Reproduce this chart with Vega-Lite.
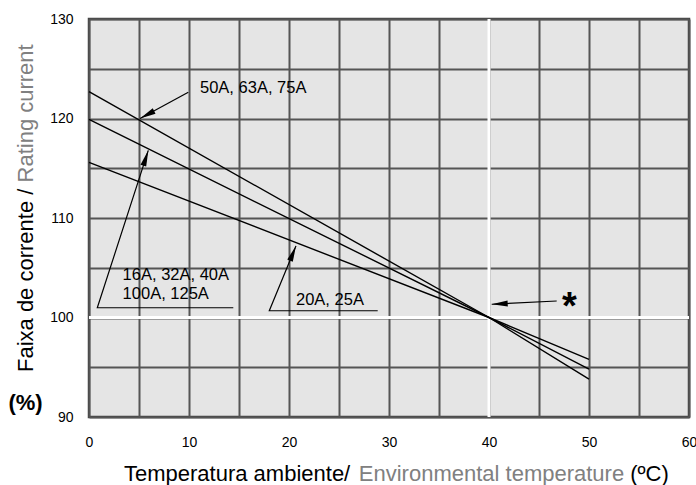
{
  "$schema": "https://vega.github.io/schema/vega-lite/v6.json",
  "width": 600,
  "height": 398,
  "autosize": {"type": "none"},
  "padding": {"left": 89, "top": 19, "right": 7, "bottom": 68},
  "background": "white",
  "config": {
    "view": {"fill": "#e5e5e5", "stroke": "#444444", "strokeWidth": 2.5},
    "font": "Liberation Sans",
    "text": {"font": "Liberation Sans"}
  },
  "datasets": {
    "curves": [
      {"s": "50A, 63A, 75A", "x": 0, "y": 122.7},
      {"s": "50A, 63A, 75A", "x": 40, "y": 100},
      {"s": "50A, 63A, 75A", "x": 50, "y": 93.8},
      {"s": "16A, 32A, 40A, 100A, 125A", "x": 0, "y": 119.9},
      {"s": "16A, 32A, 40A, 100A, 125A", "x": 40, "y": 100},
      {"s": "16A, 32A, 40A, 100A, 125A", "x": 50, "y": 94.8},
      {"s": "20A, 25A", "x": 0, "y": 115.6},
      {"s": "20A, 25A", "x": 40, "y": 100},
      {"s": "20A, 25A", "x": 50, "y": 95.8}
    ],
    "leaders": [
      {"a": "a1", "o": 1, "x": 9.93, "y": 122.63},
      {"a": "a1", "o": 2, "x": 5.1, "y": 120.0},
      {"a": "a2", "o": 1, "x": 14.43, "y": 100.98},
      {"a": "a2", "o": 2, "x": 0.83, "y": 100.98},
      {"a": "a2", "o": 3, "x": 5.93, "y": 116.8},
      {"a": "a3", "o": 1, "x": 28.87, "y": 100.68},
      {"a": "a3", "o": 2, "x": 18.03, "y": 100.68},
      {"a": "a3", "o": 3, "x": 20.7, "y": 107.2},
      {"a": "a4", "o": 1, "x": 46.77, "y": 101.66},
      {"a": "a4", "o": 2, "x": 40.27, "y": 101.33}
    ],
    "tips": [
      {"a": "a1", "x": 5.1, "y": 120.0},
      {"a": "a2", "x": 5.93, "y": 116.8},
      {"a": "a3", "x": 20.7, "y": 107.2},
      {"a": "a4", "x": 40.27, "y": 101.33}
    ],
    "labels": [
      {"label": "50A, 63A, 75A", "x": 11.1, "y": 122.53},
      {"label": "16A, 32A, 40A", "x": 3.36, "y": 103.77},
      {"label": "100A, 125A", "x": 3.36, "y": 101.86},
      {"label": "20A, 25A", "x": 20.7, "y": 101.26}
    ],
    "star": [{"label": "*", "x": 48.05, "y": 99.8}],
    "pct": [{"label": "(%)", "x": -6.35, "y": 90.66}],
    "xtitle": [
      {"label": "Temperatura ambiente/", "lang": "pt", "x": 3.5, "y": 83.57},
      {"label": "Environmental temperature", "lang": "en", "x": 26.98, "y": 83.57},
      {"label": "(ºC)", "lang": "unit", "x": 54.12, "y": 83.57}
    ],
    "ytitle": [
      {"label": "Faixa de corrente /", "lang": "pt", "x": -5.6, "y": 94.52},
      {"label": "Rating current", "lang": "en", "x": -5.6, "y": 113.57}
    ],
    "refx": [{"x": 40}],
    "refy": [{"y": 100}]
  },
  "layer": [
    {
      "data": {"name": "refx"},
      "mark": {"type": "rule", "color": "white", "strokeWidth": 3},
      "encoding": {
        "x": {
          "field": "x", "type": "quantitative",
          "scale": {"domain": [0, 60], "nice": false, "zero": false},
          "axis": {
            "values": [0, 5, 10, 15, 20, 25, 30, 35, 40, 45, 50, 55, 60],
            "labelExpr": "datum.value % 10 === 0 ? datum.label : ''",
            "title": null, "domain": false, "ticks": false, "tickSize": 0,
            "labelPadding": 18, "labelFontSize": 14, "labelColor": "black",
            "labelFont": "Liberation Sans", "labelFlush": false,
            "grid": true, "gridColor": "#555555", "gridWidth": 2, "gridOpacity": 1
          }
        }
      }
    },
    {
      "data": {"name": "refy"},
      "mark": {"type": "rule", "color": "white", "strokeWidth": 3},
      "encoding": {
        "y": {
          "field": "y", "type": "quantitative",
          "scale": {"domain": [90, 130], "nice": false, "zero": false},
          "axis": {
            "values": [90, 95, 100, 105, 110, 115, 120, 125, 130],
            "labelExpr": "datum.value % 10 === 0 ? datum.label : ''",
            "title": null, "domain": false, "ticks": false, "tickSize": 0,
            "labelPadding": 16, "labelFontSize": 14, "labelColor": "black",
            "labelFont": "Liberation Sans", "labelFlush": false,
            "grid": true, "gridColor": "#555555", "gridWidth": 2, "gridOpacity": 1
          }
        }
      }
    },
    {
      "data": {"name": "curves"},
      "mark": {"type": "line", "color": "black", "strokeWidth": 1.4},
      "encoding": {
        "x": {"field": "x", "type": "quantitative"},
        "y": {"field": "y", "type": "quantitative"},
        "detail": {"field": "s"}
      }
    },
    {
      "data": {"name": "leaders"},
      "mark": {"type": "line", "color": "black", "strokeWidth": 1.2},
      "encoding": {
        "x": {"field": "x", "type": "quantitative"},
        "y": {"field": "y", "type": "quantitative"},
        "detail": {"field": "a"},
        "order": {"field": "o", "type": "quantitative"}
      }
    },
    {
      "data": {"name": "tips"},
      "transform": [{"filter": "datum.a === 'a1'"}],
      "mark": {"type": "point", "filled": true, "color": "black", "opacity": 1, "size": 100, "angle": 242, "shape": "M0,0L-0.6,3.2L0.6,3.2Z"},
      "encoding": {"x": {"field": "x", "type": "quantitative"}, "y": {"field": "y", "type": "quantitative"}}
    },
    {
      "data": {"name": "tips"},
      "transform": [{"filter": "datum.a === 'a2'"}],
      "mark": {"type": "point", "filled": true, "color": "black", "opacity": 1, "size": 100, "angle": 18, "shape": "M0,0L-0.6,3.2L0.6,3.2Z"},
      "encoding": {"x": {"field": "x", "type": "quantitative"}, "y": {"field": "y", "type": "quantitative"}}
    },
    {
      "data": {"name": "tips"},
      "transform": [{"filter": "datum.a === 'a3'"}],
      "mark": {"type": "point", "filled": true, "color": "black", "opacity": 1, "size": 100, "angle": 22, "shape": "M0,0L-0.6,3.2L0.6,3.2Z"},
      "encoding": {"x": {"field": "x", "type": "quantitative"}, "y": {"field": "y", "type": "quantitative"}}
    },
    {
      "data": {"name": "tips"},
      "transform": [{"filter": "datum.a === 'a4'"}],
      "mark": {"type": "point", "filled": true, "color": "black", "opacity": 1, "size": 100, "angle": 267, "shape": "M0,0L-0.6,3.2L0.6,3.2Z"},
      "encoding": {"x": {"field": "x", "type": "quantitative"}, "y": {"field": "y", "type": "quantitative"}}
    },
    {
      "data": {"name": "labels"},
      "mark": {"type": "text", "align": "left", "baseline": "alphabetic", "fontSize": 16.5, "color": "black", "font": "Liberation Sans"},
      "encoding": {
        "x": {"field": "x", "type": "quantitative"},
        "y": {"field": "y", "type": "quantitative"},
        "text": {"field": "label"}
      }
    },
    {
      "data": {"name": "star"},
      "mark": {"type": "text", "align": "center", "baseline": "alphabetic", "fontSize": 38, "fontWeight": "bold", "color": "black", "font": "Liberation Sans"},
      "encoding": {
        "x": {"field": "x", "type": "quantitative"},
        "y": {"field": "y", "type": "quantitative"},
        "text": {"field": "label"}
      }
    },
    {
      "data": {"name": "pct"},
      "mark": {"type": "text", "align": "center", "baseline": "alphabetic", "fontSize": 22, "fontWeight": "bold", "color": "black", "font": "Liberation Sans"},
      "encoding": {
        "x": {"field": "x", "type": "quantitative"},
        "y": {"field": "y", "type": "quantitative"},
        "text": {"field": "label"}
      }
    },
    {
      "data": {"name": "xtitle"},
      "mark": {"type": "text", "align": "left", "baseline": "alphabetic", "fontSize": 22, "font": "Liberation Sans"},
      "encoding": {
        "x": {"field": "x", "type": "quantitative"},
        "y": {"field": "y", "type": "quantitative"},
        "text": {"field": "label"},
        "color": {"field": "lang", "type": "nominal", "scale": {"domain": ["pt", "en", "unit"], "range": ["#000000", "#808080", "#000000"]}, "legend": null}
      }
    },
    {
      "data": {"name": "ytitle"},
      "mark": {"type": "text", "align": "left", "baseline": "alphabetic", "fontSize": 22, "angle": 270, "font": "Liberation Sans"},
      "encoding": {
        "x": {"field": "x", "type": "quantitative"},
        "y": {"field": "y", "type": "quantitative"},
        "text": {"field": "label"},
        "color": {"field": "lang", "type": "nominal", "legend": null}
      }
    }
  ]
}
